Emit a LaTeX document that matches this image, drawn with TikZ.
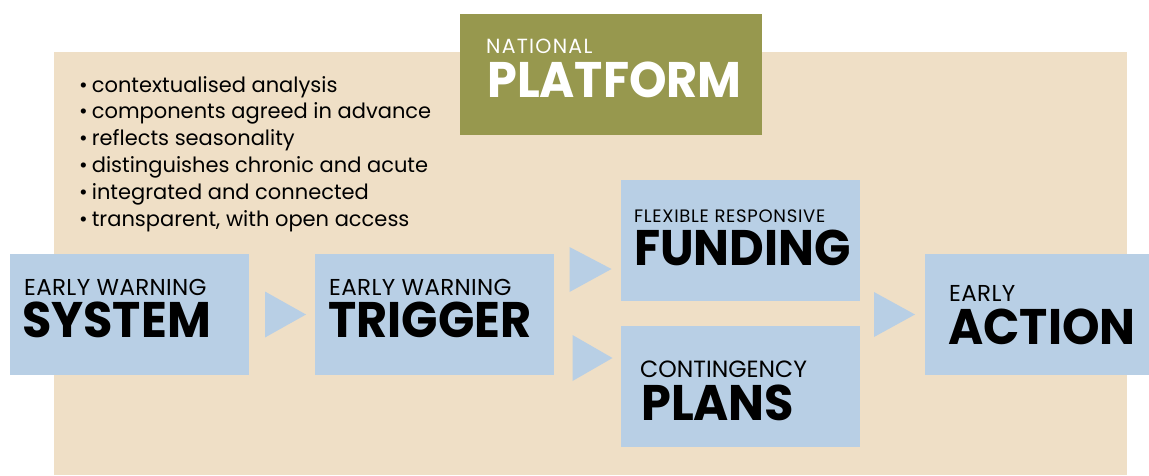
\documentclass[tikz,border=0pt]{standalone}
\usepackage{fontspec}
\setmainfont{Poppins}
\usetikzlibrary{calc}
\definecolor{beige}{RGB}{239,223,198}
\definecolor{boxblue}{RGB}{184,207,229}
\definecolor{olive}{RGB}{151,152,78}
\tikzset{
  box/.style={fill=boxblue, inner sep=0pt, outer sep=0pt, minimum width=239pt, minimum height=121pt},
  small/.style={anchor=base west, inner sep=0pt, font=\fontsize{23}{23}\selectfont},
  big/.style={anchor=base west, inner sep=0pt, font=\fontsize{50}{50}\selectfont\bfseries\addfontfeature{FakeStretch=0.955}},
  bul/.style={anchor=base west, inner sep=0pt, font=\fontsize{21}{27}\selectfont},
  tri/.style={fill=boxblue}
}
\begin{document}
\begin{tikzpicture}[x=1pt,y=-1pt]
\useasboundingbox (0,0) rectangle (1149,475);
% background
\fill[beige] (54,52) rectangle (1127,475);
% national platform
\node[fill=olive, inner sep=0pt, minimum width=302pt, minimum height=121pt] (np) at (611,74.5) {};
\node[small, text=white, font=\fontsize{20.5}{20.5}\selectfont\addfontfeature{LetterSpace=6}] (npt1) at (486,53) {NATIONAL};
\node[big, text=white] (npt2) at (487,97) {PLATFORM};
% bullets
\foreach \t [count=\i] in {contextualised analysis, components agreed in advance, reflects seasonality, distinguishes chronic and acute, integrated and connected, {transparent, with open access}}{
  \node[bul] (b\i) at (79,{92+26.8*(\i-1)}) {•\hspace{4pt}\t};
}
% boxes
\node[box] (ews) at (129.5,314.5) {};
\node[box] (ewt) at (434.5,314.5) {};
\node[box] (fund) at (740,240.5) {};
\node[box] (cont) at (740,386.5) {};
\node[box, minimum width=224pt] (act) at (1037,314.5) {};
% texts
\node[small, font=\fontsize{23}{23}\selectfont\addfontfeature{LetterSpace=1.5}] (t1a) at (24,295) {EARLY WARNING};
\node[big] (t1b) at (22,337) {SYSTEM};
\node[small, font=\fontsize{23}{23}\selectfont\addfontfeature{LetterSpace=1.5}] (t2a) at (329,295) {EARLY WARNING};
\node[big] (t2b) at (328,337) {TRIGGER};
\node[small, font=\fontsize{18}{18}\selectfont\addfontfeature{LetterSpace=4}] (t3a) at (634,222) {FLEXIBLE RESPONSIVE};
\node[big] (t3b) at (634,265) {FUNDING};
\node[small, font=\fontsize{23.5}{23.5}\selectfont] (t4a) at (640,377) {CONTINGENCY};
\node[big] (t4b) at (641,420) {PLANS};
\node[small, font=\fontsize{23}{23}\selectfont\addfontfeature{LetterSpace=1.5}] (t5a) at (949,301) {EARLY};
\node[big] (t5b) at (948,344) {ACTION};
% arrows
\fill[tri] ($(ews.east)+(16,-23)$) -- ($(ews.east)+(57,0)$) -- ($(ews.east)+(16,23)$) -- cycle;
\fill[tri] ($(fund.west)+(-51,6.5)$) -- ($(fund.west)+(-9,28.5)$) -- ($(fund.west)+(-51,51.5)$) -- cycle;
\fill[tri] ($(cont.west)+(-48,-51.5)$) -- ($(cont.west)+(-8,-28.5)$) -- ($(cont.west)+(-48,-5.5)$) -- cycle;
\fill[tri] ($(act.west)+(-51,-22.5)$) -- ($(act.west)+(-10,0)$) -- ($(act.west)+(-51,22.5)$) -- cycle;
\end{tikzpicture}
\end{document}
